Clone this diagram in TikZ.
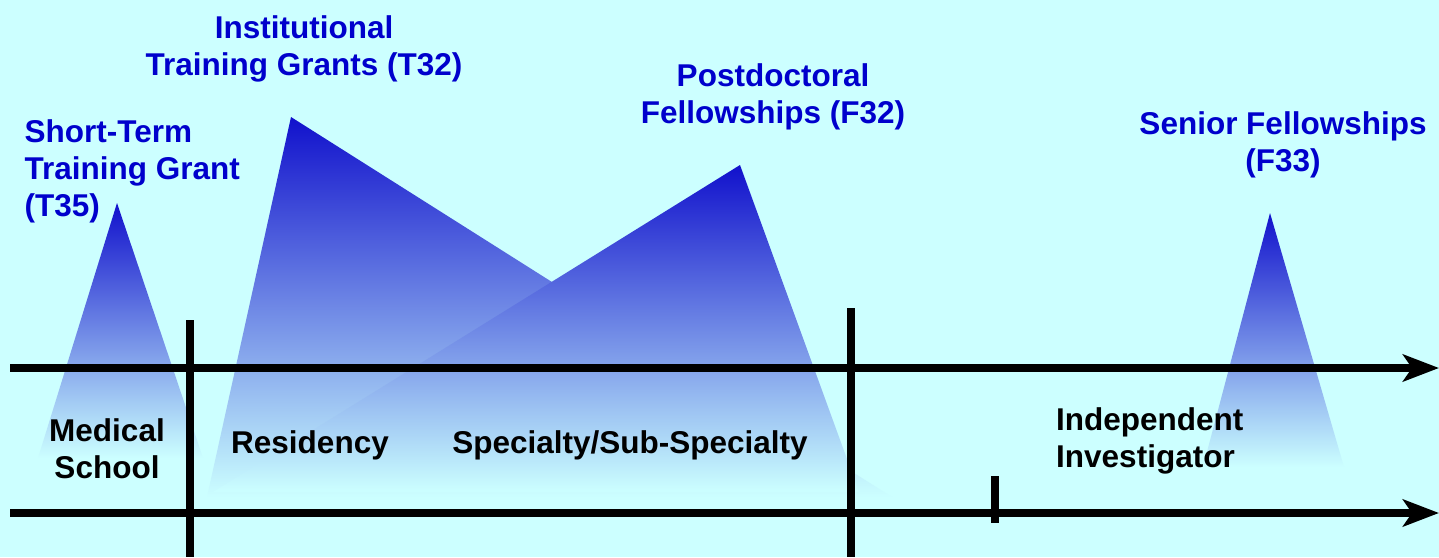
\documentclass[tikz,border=0pt]{standalone}
\usepackage{fontspec}
\setmainfont{Liberation Sans}
\usetikzlibrary{arrows.meta}
\definecolor{bgc}{RGB}{204,255,255}
\definecolor{peakc}{RGB}{17,17,204}
\definecolor{midc}{RGB}{112,150,232}
\definecolor{labc}{RGB}{0,0,204}
\definecolor{inkc}{RGB}{0,0,0}

\begin{document}
\begin{tikzpicture}[x=1pt, y=-1pt, >={Stealth[length=36pt, width=27pt, inset=9pt]},
  font=\fontsize{31.5}{37}\selectfont\bfseries,
  grant/.style={top color=peakc, middle color=midc, bottom color=bgc, draw=none},
  bar/.style={inkc, line width=8pt},
  lab/.style={labc, inner sep=0pt, align=center},
  stage/.style={inkc, inner sep=0pt, align=center}]

  % page = 1439 x 557, light cyan ground
  \fill[bgc] (0,0) rectangle (1439,557);
  \useasboundingbox (0,0) rectangle (1439,557);

  % funding peaks: dark blue at the apex, fading into the ground at the base
  \shade[grant] (291,117) -- (892,497) -- (207,497) -- cycle;    % T32
  \shade[grant] (740,165) -- (859,492) -- (213,492) -- cycle;    % F32 (over T32)
  \shade[grant] (117,203) -- (203,458) -- (38,458) -- cycle;     % T35
  \shade[grant] (1270,213) -- (1344,467) -- (1203,467) -- cycle; % F33

  % two time lines
  \coordinate (upL) at (10,368);
  \coordinate (upR) at (1439,368);
  \coordinate (loL) at (10,513);
  \coordinate (loR) at (1439,513);
  \draw[bar, ->] (upL) -- (upR);
  \draw[bar, ->] (loL) -- (loR);

  % stage dividers + short tick on the lower line
  \coordinate (div1t) at (190,320);
  \coordinate (div1b) at (190,557);
  \coordinate (div2t) at (851,308);
  \coordinate (div2b) at (851,557);
  \coordinate (tickt) at (995,476);
  \coordinate (tickb) at (995,523);
  \draw[bar] (div1t) -- (div1b);
  \draw[bar] (div2t) -- (div2b);
  \draw[bar] (tickt) -- (tickb);

  % grant labels
  \node[lab] (t32) at (304,48.5) {Institutional\\Training Grants (T32)};
  \node[lab] (f32) at (773,97) {Postdoctoral\\Fellowships (F32)};
  \node[lab, align=left, anchor=west] (t35) at (24.5,171) {Short-Term\\Training Grant\\(T35)};
  \node[lab] (f33) at (1283,145) {Senior Fellowships\\(F33)};

  % career stages
  \node[stage] (med) at (107,448.5) {Medical\\School};
  \node[stage, anchor=base] (res) at (310,453) {Residency};
  \node[stage, anchor=base] (spec) at (630,453) {Specialty/Sub-Specialty};
  \node[stage, align=left, anchor=west] (indep) at (1056,441) {Independent\\Investigator};

\end{tikzpicture}
\end{document}
